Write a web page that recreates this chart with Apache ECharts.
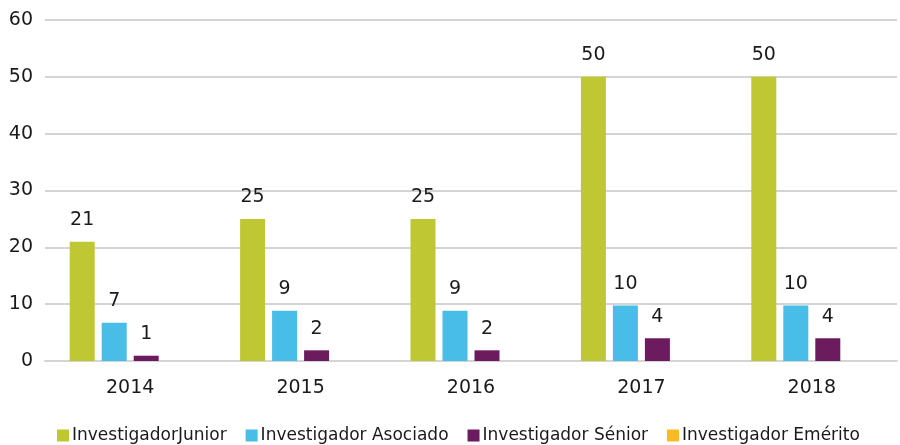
<!DOCTYPE html>
<html><head><meta charset="utf-8">
<script src="https://cdn.jsdelivr.net/npm/echarts@6/dist/echarts.min.js"></script>
<style>html,body{margin:0;padding:0;background:#fff}#c{width:900px;height:445px}</style>
</head><body><div id="c"></div>
<script>
var categories = ['2014','2015','2016','2017','2018'];
var junior = [21,25,25,50,50];
var asociado = [6.75,8.85,8.85,9.75,9.75];
var senior = [0.93,1.88,1.88,4,4];
var emerito = [0,0,0,0,0];
var seriesNames = ['InvestigadorJunior','Investigador Asociado','Investigador Sénior','Investigador Emérito'];
var colors = ['#BFC732','#47BDE8','#6B1B5E','#FBBA22'];
var FONT = '"DejaVu Sans", sans-serif';
function mk(name, data, color){
  return {name:name,type:'bar',data:data,barWidth:25,barGap:'28%',
    itemStyle:{color:color},
    label:{show:true,position:'top',distance:12,color:'#1a1a1a',fontSize:19,fontFamily:FONT,
      formatter:function(p){return p.value===0?'':String(Math.round(p.value));}}};
}
var chart = echarts.init(document.getElementById('c'));
chart.setOption({
  animation:false,
  color:colors,
  grid:{left:45,right:3,top:20,bottom:84,containLabel:false},
  legend:{top:422,left:52,itemWidth:12,itemHeight:12,itemGap:19,padding:[5,5,5,5],
    textStyle:{fontSize:17,color:'#1a1a1a',fontFamily:FONT,padding:[0,0,0,-2]},
    data:seriesNames.map(function(n){return {name:n,icon:'rect'};})},
  xAxis:{type:'category',data:categories,
    axisLine:{lineStyle:{color:'#d4d4d4',width:2}},axisTick:{show:false},
    axisLabel:{fontSize:19,color:'#1a1a1a',fontFamily:FONT,margin:18}},
  yAxis:{type:'value',min:0,max:60,interval:10,
    axisLine:{show:false},axisTick:{show:false},
    splitLine:{lineStyle:{color:'#d4d4d4',width:2}},
    axisLabel:{fontSize:19,color:'#1a1a1a',fontFamily:FONT,margin:12}},
  series:[mk(seriesNames[0],junior,colors[0]),mk(seriesNames[1],asociado,colors[1]),
          mk(seriesNames[2],senior,colors[2]),mk(seriesNames[3],emerito,colors[3])]
});
</script></body></html>
